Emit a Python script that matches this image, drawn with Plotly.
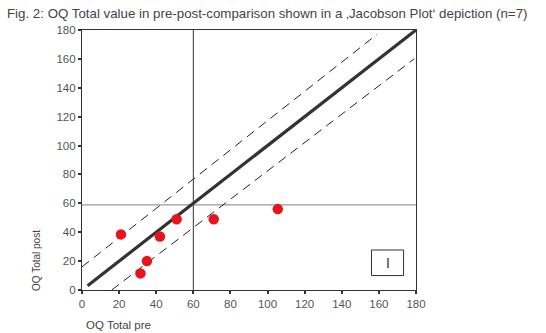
import plotly.graph_objects as go

# Data
pre = [21, 31.5, 35, 42, 51, 71, 105.5]
post = [38.5, 11.5, 20, 37, 49, 49, 56]

identity_x = [3, 180]
identity_y = [3, 180]
upper_x = [0, 159]
upper_y = [16, 177]
lower_x = [16, 179]
lower_y = [0, 160]

cutoff_pre = 60
cutoff_post = 59

tick_vals = [0, 20, 40, 60, 80, 100, 120, 140, 160, 180]

FONT = "Liberation Sans, Arial, sans-serif"

fig = go.Figure()

fig.add_trace(go.Scatter(x=upper_x, y=upper_y, mode="lines",
                         line=dict(color="#222", width=1, dash="9px,6px"),
                         hoverinfo="skip", showlegend=False))
fig.add_trace(go.Scatter(x=lower_x, y=lower_y, mode="lines",
                         line=dict(color="#222", width=1, dash="9px,6px"),
                         hoverinfo="skip", showlegend=False))
fig.add_trace(go.Scatter(x=identity_x, y=identity_y, mode="lines",
                         line=dict(color="#333", width=3.2),
                         hoverinfo="skip", showlegend=False))
fig.add_trace(go.Scatter(x=pre, y=post, mode="markers",
                         marker=dict(color="#e8141c", size=10.5, line=dict(width=0)),
                         showlegend=False))

# cutoff lines
fig.add_shape(type="line", x0=cutoff_pre, x1=cutoff_pre, y0=0, y1=180,
              xref="x", yref="y", line=dict(color="#333", width=1), layer="below")
fig.add_shape(type="line", x0=0, x1=180, y0=cutoff_post, y1=cutoff_post,
              xref="x", yref="y", line=dict(color="#999", width=1.2), layer="below")

# quadrant label box
fig.add_shape(type="rect", x0=156, x1=173.3, y0=10, y1=27.7, xref="x", yref="y",
              line=dict(color="#333", width=1), fillcolor="white")
fig.add_annotation(x=164.7, y=18.8, xref="x", yref="y", text="I", showarrow=False,
                   font=dict(family=FONT, size=14, color="#333"))

axis_common = dict(
    range=[0, 180], tickvals=tick_vals, showgrid=False, zeroline=False,
    showline=True, linecolor="#333", linewidth=1.2, mirror=True,
    ticks="outside", ticklen=3, tickwidth=2, tickcolor="#333",
    tickfont=dict(family=FONT, size=11.5, color="#555"),
)

fig.update_layout(
    width=546, height=333,
    margin=dict(l=82, r=130, t=30, b=43),
    paper_bgcolor="white", plot_bgcolor="white",
    xaxis=dict(**axis_common),
    yaxis=dict(**axis_common),
    showlegend=False,
    font=dict(family=FONT),
)

fig.add_annotation(xref="paper", yref="paper", x=-0.232, y=1.062, xanchor="left", yanchor="middle",
                   text="Fig. 2: OQ Total value in pre-post-comparison shown in a \u201aJacobson Plot\u2018 depiction (n=7)",
                   showarrow=False, font=dict(family=FONT, size=13.3, color="#444"))
fig.add_annotation(xref="paper", yref="paper", x=0.005, y=-0.105, xanchor="left", yanchor="top",
                   text="OQ Total pre", showarrow=False,
                   font=dict(family=FONT, size=11.5, color="#444"))
fig.add_annotation(xref="paper", yref="paper", x=-0.138, y=0.115, xanchor="center", yanchor="middle",
                   text="OQ Total post", textangle=-90, showarrow=False,
                   font=dict(family=FONT, size=10, color="#444"))

fig.write_html("out.html", config={"displayModeBar": False},
               post_script="document.body.style.margin='0';document.body.style.padding='0';")
